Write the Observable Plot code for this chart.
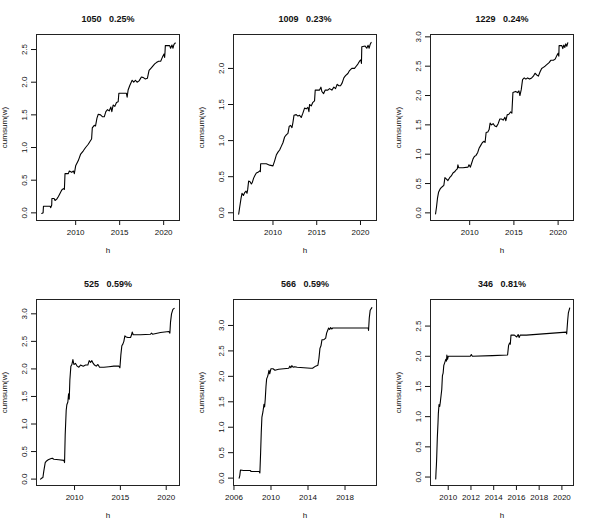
<!DOCTYPE html>
<html><head><meta charset="utf-8">
<script src="https://cdn.jsdelivr.net/npm/d3@7"></script>
<script src="https://cdn.jsdelivr.net/npm/@observablehq/plot@0.6"></script>
<style>
body{margin:0;background:#fff;}
#grid{display:grid;grid-template-columns:197px 197px 196px;grid-template-rows:265px 265px;width:590px;height:530px;}
#grid svg{display:block;}
</style></head><body><div id="grid"></div><script>
// ---- data ----
const panelIds  = ["1050", "1009", "1229", "525", "566", "346"];
const panelPcts = ["0.25%", "0.23%", "0.24%", "0.59%", "0.59%", "0.81%"];

const h1050 = [2006.15,2006.3,2006.34,2007.09,2007.17,2007.28,2007.3,2007.55,2007.66,2007.85,2008.04,2008.23,2008.42,2008.6,2008.72,2008.79,2009.17,2009.28,2009.55,2009.74,2009.85,2010.0,2010.3,2010.57,2010.87,2011.13,2011.43,2011.66,2011.81,2011.89,2012.11,2012.26,2012.42,2012.57,2012.83,2013.06,2013.25,2013.43,2013.62,2013.81,2014.0,2014.11,2014.26,2014.45,2014.64,2014.83,2014.91,2015.77,2015.85,2015.96,2016.15,2016.42,2016.6,2016.79,2016.98,2017.21,2017.47,2017.7,2017.92,2018.15,2018.34,2018.6,2018.79,2018.98,2019.17,2019.43,2019.66,2019.85,2020.04,2020.11,2020.15,2020.19,2020.68,2020.79,2020.94,2021.06,2021.17,2021.32];
const w1050 = [-0.01,0.0,0.1,0.1,0.08,0.12,0.22,0.22,0.19,0.21,0.25,0.3,0.35,0.37,0.36,0.6,0.6,0.64,0.62,0.64,0.6,0.72,0.8,0.9,0.95,1.0,1.05,1.1,1.13,1.3,1.34,1.33,1.45,1.51,1.5,1.47,1.47,1.55,1.58,1.56,1.62,1.55,1.65,1.63,1.69,1.7,1.83,1.83,1.77,1.88,1.95,2.03,2.0,2.03,2.0,2.02,2.08,2.07,2.05,2.06,2.18,2.22,2.25,2.28,2.3,2.32,2.32,2.38,2.43,2.38,2.45,2.56,2.56,2.52,2.57,2.52,2.58,2.6];

const h1009 = [2006.08,2006.2,2006.35,2006.46,2006.62,2006.77,2006.92,2007.03,2007.11,2007.22,2007.38,2007.53,2007.64,2007.79,2007.95,2008.1,2008.29,2008.48,2008.56,2008.59,2009.24,2009.62,2010.0,2010.19,2010.38,2010.57,2010.76,2010.95,2011.14,2011.33,2011.52,2011.71,2011.86,2012.02,2012.17,2012.28,2012.4,2012.66,2012.85,2013.04,2013.23,2013.42,2013.61,2013.8,2013.99,2014.11,2014.18,2014.37,2014.56,2014.75,2014.83,2015.32,2015.48,2015.59,2015.78,2015.97,2016.27,2016.46,2016.73,2016.96,2017.15,2017.34,2017.53,2017.72,2017.91,2018.1,2018.29,2018.56,2018.75,2019.01,2019.32,2019.51,2019.7,2019.89,2020.04,2020.11,2020.15,2020.53,2020.72,2020.87,2020.99,2021.1,2021.22];
const w1009 = [-0.02,0.08,0.2,0.27,0.24,0.28,0.3,0.27,0.32,0.44,0.43,0.4,0.42,0.48,0.52,0.55,0.56,0.58,0.57,0.68,0.68,0.66,0.65,0.72,0.8,0.84,0.87,0.92,0.97,1.05,1.08,1.1,1.2,1.21,1.18,1.25,1.35,1.36,1.34,1.35,1.32,1.38,1.45,1.44,1.46,1.4,1.5,1.48,1.53,1.55,1.7,1.7,1.74,1.68,1.65,1.7,1.7,1.72,1.7,1.74,1.72,1.78,1.76,1.76,1.8,1.87,1.9,1.93,1.97,2.0,2.0,2.03,2.06,2.1,2.12,2.07,2.3,2.31,2.28,2.32,2.28,2.33,2.36];

const h1229 = [2006.14,2006.25,2006.36,2006.48,2006.63,2006.78,2006.93,2007.08,2007.2,2007.35,2007.54,2007.73,2007.92,2008.11,2008.3,2008.45,2008.6,2008.67,2008.75,2009.24,2009.81,2009.92,2010.08,2010.23,2010.38,2010.53,2010.72,2010.91,2011.06,2011.25,2011.44,2011.63,2011.74,2011.86,2012.05,2012.2,2012.31,2012.46,2012.65,2012.84,2013.03,2013.22,2013.41,2013.6,2013.79,2013.98,2014.09,2014.24,2014.43,2014.62,2014.77,2014.89,2015.19,2015.42,2015.57,2015.68,2015.83,2015.98,2016.17,2016.36,2016.55,2016.78,2017.01,2017.2,2017.39,2017.58,2017.77,2017.95,2018.14,2018.33,2018.52,2018.75,2018.98,2019.17,2019.47,2019.66,2019.85,2020.0,2020.08,2020.11,2020.42,2020.53,2020.64,2020.76,2020.87,2020.98,2021.1];
const w1229 = [-0.02,0.1,0.25,0.35,0.4,0.43,0.45,0.47,0.6,0.58,0.55,0.6,0.63,0.68,0.7,0.73,0.75,0.82,0.77,0.77,0.78,0.82,0.78,0.85,0.92,0.96,0.98,1.03,1.1,1.15,1.2,1.22,1.2,1.37,1.38,1.42,1.53,1.5,1.52,1.48,1.47,1.52,1.6,1.6,1.58,1.63,1.57,1.67,1.68,1.72,1.7,2.05,2.07,2.05,2.08,2.0,2.1,2.27,2.3,2.28,2.3,2.28,2.3,2.33,2.38,2.35,2.33,2.4,2.46,2.48,2.5,2.53,2.56,2.6,2.6,2.62,2.68,2.72,2.67,2.85,2.85,2.8,2.86,2.82,2.88,2.84,2.9];

const h525 = [2006.29,2006.44,2006.55,2006.65,2006.8,2006.95,2007.13,2007.38,2007.56,2007.75,2008.29,2008.84,2008.91,2008.98,2009.09,2009.16,2009.27,2009.35,2009.42,2009.49,2009.6,2009.71,2009.82,2009.93,2010.11,2010.29,2010.47,2010.65,2010.95,2011.2,2011.45,2011.6,2011.75,2011.89,2012.04,2012.18,2012.36,2012.55,2012.73,2013.2,2013.75,2014.29,2014.84,2014.95,2015.05,2015.16,2015.27,2015.38,2015.49,2015.64,2015.82,2016.11,2016.22,2016.29,2016.4,2017.2,2018.29,2018.4,2018.51,2019.38,2020.29,2020.4,2020.47,2020.58,2020.73,2020.87];
const w525 = [0.0,0.02,0.03,0.15,0.3,0.33,0.35,0.37,0.38,0.36,0.35,0.34,0.3,0.8,1.25,1.35,1.4,1.55,1.45,1.8,2.05,2.08,2.17,2.08,2.1,2.05,2.03,2.07,2.05,2.07,2.07,2.15,2.12,2.15,2.1,2.07,2.05,2.08,2.03,2.03,2.04,2.05,2.05,2.02,2.25,2.42,2.45,2.5,2.6,2.58,2.57,2.57,2.62,2.67,2.62,2.62,2.63,2.65,2.63,2.66,2.68,2.65,2.85,3.0,3.08,3.1];

const h566 = [2006.56,2006.63,2006.7,2007.03,2007.75,2007.86,2008.3,2008.73,2008.8,2008.88,2008.95,2009.02,2009.13,2009.24,2009.31,2009.38,2009.46,2009.53,2009.64,2009.71,2009.78,2009.86,2010.0,2010.22,2010.43,2010.83,2011.38,2011.92,2012.03,2012.14,2012.25,2012.39,2012.57,2012.83,2013.55,2014.28,2014.49,2014.82,2015.07,2015.18,2015.29,2015.4,2015.51,2015.72,2015.91,2016.01,2016.12,2016.23,2016.34,2016.45,2016.56,2016.67,2018.26,2020.51,2020.54,2020.62,2020.72,2020.9];
const w566 = [0.0,0.05,0.16,0.15,0.15,0.13,0.13,0.13,0.1,0.5,0.9,1.2,1.3,1.45,1.4,1.55,1.8,1.95,2.0,2.05,2.12,2.05,2.15,2.15,2.12,2.14,2.15,2.16,2.2,2.17,2.21,2.18,2.19,2.18,2.17,2.16,2.16,2.2,2.22,2.35,2.55,2.6,2.72,2.72,2.75,2.85,2.9,2.95,2.92,2.96,2.93,2.95,2.95,2.95,2.9,3.15,3.3,3.35];

const h346 = [2008.9,2008.93,2008.96,2008.99,2009.04,2009.1,2009.13,2009.19,2009.25,2009.31,2009.37,2009.43,2009.49,2009.55,2009.61,2009.7,2009.79,2009.85,2009.88,2009.94,2010.0,2010.9,2011.94,2012.03,2012.12,2013.88,2015.22,2015.31,2015.4,2015.46,2015.52,2015.82,2016.03,2016.15,2016.24,2016.33,2016.87,2020.39,2020.42,2020.51,2020.57,2020.69];
const w346 = [-0.03,0.1,0.2,0.35,0.65,0.9,1.05,1.2,1.17,1.25,1.35,1.45,1.68,1.72,1.85,1.9,1.95,1.92,2.02,1.95,2.0,2.0,2.0,2.03,2.0,2.01,2.02,2.18,2.22,2.2,2.35,2.35,2.32,2.36,2.31,2.35,2.35,2.4,2.37,2.6,2.72,2.8];

const xTicks1050 = [2010, 2015, 2020];
const xTicks566  = [2006, 2010, 2014, 2018];
const xTicks346  = [2010, 2012, 2014, 2016, 2018, 2020];
const yTicks1050 = [0, 0.5, 1, 1.5, 2, 2.5];
const yTicks1009 = [0, 0.5, 1, 1.5, 2];
const yTicks1229 = [0, 0.5, 1, 1.5, 2, 2.5, 3];

// ---- panel setup ----
const panels = [
  {h: h1050, w: w1050, xt: xTicks1050, yt: yTicks1050, xd: [2005.55, 2021.8], yd: [-0.117, 2.73]},
  {h: h1009, w: w1009, xt: xTicks1050, yt: yTicks1009, xd: [2005.49, 2021.83], yd: [-0.107, 2.47]},
  {h: h1229, w: w1229, xt: xTicks1050, yt: yTicks1229, xd: [2005.57, 2021.74], yd: [-0.13, 3.04]},
  {h: h525,  w: w525,  xt: xTicks1050, yt: yTicks1229, xd: [2005.85, 2021.45], yd: [-0.116, 3.26]},
  {h: h566,  w: w566,  xt: xTicks566,  yt: yTicks1229, xd: [2005.95, 2021.4], yd: [-0.145, 3.51]},
  {h: h346,  w: w346,  xt: xTicks346,  yt: yTicks1050, xd: [2008.44, 2021.02], yd: [-0.14, 2.94]}
];
const widths = [197, 197, 196];
const grid = document.getElementById("grid");
const ink = "#111";

panels.forEach((p, i) => {
  const data = p.h.map((h, j) => ({h, c: p.w[j]}));
  const title = panelIds[i] + "\u00a0\u00a0\u00a0" + panelPcts[i];
  const chart = Plot.plot({
    width: widths[i % 3], height: 265,
    marginLeft: 36, marginRight: widths[i % 3] - 36 - 143, marginTop: 34, marginBottom: 45,
    style: {fontFamily: "'Liberation Sans', Arial, sans-serif", fontSize: "8px", color: ink, background: "#fff", overflow: "visible"},
    x: {domain: p.xd},
    y: {domain: p.yd},
    marks: [
      Plot.axisX({ticks: p.xt, tickFormat: d => String(d), tickSize: 5, tickPadding: 4, stroke: ink,
        label: "h", labelAnchor: "center", labelArrow: "none", labelOffset: 32}),
      Plot.axisY({ticks: p.yt, tickFormat: d3.format(".1f"), tickSize: 5, tickRotate: -90, tickPadding: 5, stroke: ink,
        label: "cumsum(w)", labelAnchor: "center", labelArrow: "none", labelOffset: 35}),
      Plot.frame({stroke: "#222", strokeWidth: 1}),
      Plot.line(data, {x: "h", y: "c", stroke: "#000", strokeWidth: 1.1}),
      Plot.text([title], {frameAnchor: "top", lineAnchor: "middle", dy: -15.5, fontWeight: "bold", fontSize: 9, fill: ink})
    ]
  });
  grid.appendChild(chart);
});
</script></body></html>
